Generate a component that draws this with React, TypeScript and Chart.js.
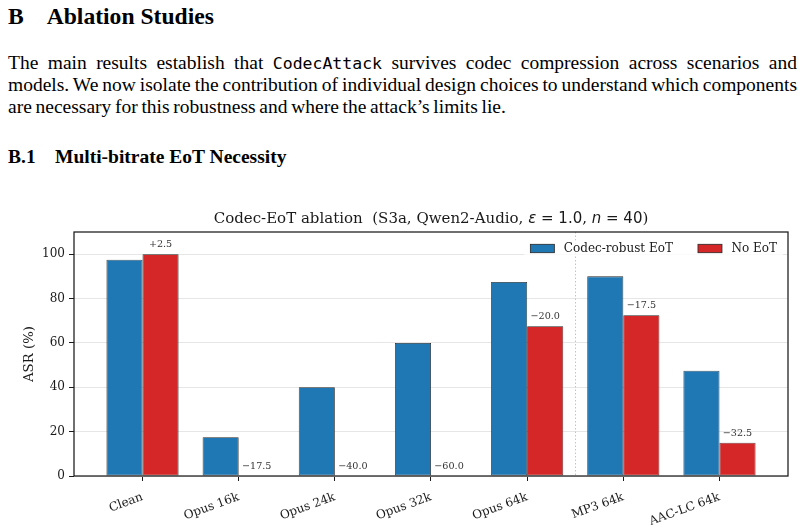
import { useEffect, useRef } from "react";
import { Chart, registerables } from "chart.js";

Chart.register(...registerables);

// ---- data ----
const categories = ["Clean", "Opus 16k", "Opus 24k", "Opus 32k", "Opus 64k", "MP3 64k", "AAC-LC 64k"];
const robustAsr = [97.5, 17.5, 40, 60, 87.5, 90, 47.5];
const noEotAsr = [100, 0, 0, 0, 67.5, 72.5, 15];
const seriesNames = ["Codec-robust EoT", "No EoT"];
const asrTicks = [0, 20, 40, 60, 80, 100];
const asrMax = 110;

// ---- styling ----
const SERIF = "'DejaVu Serif', serif";
const SANS = "'DejaVu Sans', sans-serif";
const BLUE = "#1f77b4";
const RED = "#d62728";
const EDGE = "#262626";
const INK = "#1a1a1a";
const PAPER = "'Liberation Serif', 'Times New Roman', serif";

// x limits: bars reach ±0.375 around the outer categories, plus a 5% margin
const barHalf = 0.375;
const dataSpan = categories.length - 1 + 2 * barHalf;
const xMin = -barHalf - 0.05 * dataSpan;
const xMax = categories.length - 1 + barHalf + 0.05 * dataSpan;

// dotted divider after the last Opus bitrate
const lastOpus = categories.reduce((acc, c, i) => (c.startsWith("Opus") ? i : acc), -1);
const dividerX = lastOpus + 0.5;

const fmtDelta = (d: number) => (d >= 0 ? "+" : "\u2212") + Math.abs(d).toFixed(1);

const CANVAS_TOP = 196;
const CANVAS_W = 805;
const CANVAS_H = 332;

const titleParts: [string, string][] = [
  ["Codec-EoT ablation  (S3a, Qwen2-Audio, ", `15px ${SERIF}`],
  ["\u03B5", `italic 15px ${SANS}`],
  [" = 1.0", `15px ${SANS}`],
  [", ", `15px ${SERIF}`],
  ["n", `italic 15px ${SANS}`],
  [" = 40", `15px ${SANS}`],
  [")", `15px ${SERIF}`],
];

const dividerPlugin = {
  id: "divider",
  beforeDatasetsDraw(chart: any) {
    const { ctx, chartArea } = chart;
    const x = chart.scales.x.getPixelForValue(dividerX);
    ctx.save();
    ctx.strokeStyle = "#c4c4c4";
    ctx.lineWidth = 1;
    ctx.setLineDash([1.5, 2]);
    ctx.beginPath();
    ctx.moveTo(Math.round(x) + 0.5, chartArea.top);
    ctx.lineTo(Math.round(x) + 0.5, chartArea.bottom);
    ctx.stroke();
    ctx.restore();
  },
};

const framePlugin = {
  id: "frame",
  afterDatasetsDraw(chart: any) {
    const { ctx, chartArea } = chart;
    ctx.save();
    ctx.strokeStyle = INK;
    ctx.lineWidth = 1.25;
    ctx.strokeRect(chartArea.left, chartArea.top, chartArea.right - chartArea.left, chartArea.bottom - chartArea.top);
    ctx.restore();
  },
};

const deltaPlugin = {
  id: "deltas",
  afterDatasetsDraw(chart: any) {
    const { ctx } = chart;
    const bars = chart.getDatasetMeta(1).data;
    ctx.save();
    ctx.font = `9.6px ${SERIF}`;
    ctx.fillStyle = "#333";
    ctx.textAlign = "center";
    ctx.textBaseline = "alphabetic";
    bars.forEach((bar: any, i: number) => {
      const d = noEotAsr[i] - robustAsr[i];
      ctx.fillText(fmtDelta(d), bar.x, bar.y - 7);
    });
    ctx.restore();
  },
};

const legendPlugin = {
  id: "cornerLegend",
  afterDraw(chart: any) {
    const { ctx, chartArea } = chart;
    const ds = chart.data.datasets;
    ctx.save();
    ctx.font = `12px ${SERIF}`;
    const boxW = 24;
    const boxH = 8.4;
    const gap = 9.5;
    const itemGap = 25;
    const widths = ds.map((d: any) => ctx.measureText(d.label).width);
    let total = 0;
    widths.forEach((w: number, i: number) => {
      total += boxW + gap + w + (i < widths.length - 1 ? itemGap : 0);
    });
    const right = chartArea.right - 11;
    const cy = chartArea.top + 16.5;
    let x = right - total;
    ctx.fillStyle = "rgba(255,255,255,0.8)";
    ctx.fillRect(x - 6, cy - 8, total + 12, 15);
    ctx.textBaseline = "middle";
    ds.forEach((d: any, i: number) => {
      ctx.fillStyle = d.backgroundColor;
      ctx.fillRect(x, cy - boxH / 2, boxW, boxH);
      ctx.strokeStyle = EDGE;
      ctx.lineWidth = 0.8;
      ctx.strokeRect(x, cy - boxH / 2, boxW, boxH);
      x += boxW + gap;
      ctx.fillStyle = INK;
      ctx.fillText(d.label, x, cy + 0.5);
      x += widths[i] + itemGap;
    });
    ctx.restore();
  },
};

const titlePlugin = {
  id: "mixedTitle",
  afterDraw(chart: any) {
    const { ctx, chartArea } = chart;
    ctx.save();
    const widths = titleParts.map(([t, f]) => {
      ctx.font = f;
      return ctx.measureText(t).width;
    });
    const total = widths.reduce((a, b) => a + b, 0);
    let x = (chartArea.left + chartArea.right) / 2 - total / 2;
    ctx.fillStyle = INK;
    ctx.textBaseline = "alphabetic";
    ctx.textAlign = "left";
    titleParts.forEach(([t, f], i) => {
      ctx.font = f;
      ctx.fillText(t, x, 26.5);
      x += widths[i];
    });
    ctx.restore();
  },
};

function AblationChart() {
  const ref = useRef<HTMLCanvasElement>(null);
  useEffect(() => {
    const canvas = ref.current;
    if (!canvas) return;
    const chart = new Chart(canvas, {
      type: "bar",
      data: {
        datasets: [
          {
            label: seriesNames[0],
            data: robustAsr.map((y, i) => ({ x: i, y })),
            backgroundColor: BLUE,
            borderColor: EDGE,
            borderWidth: 0.8,
            borderSkipped: false,
            categoryPercentage: 0.75,
            barPercentage: 1,
          },
          {
            label: seriesNames[1],
            data: noEotAsr.map((y, i) => ({ x: i, y })),
            backgroundColor: RED,
            borderColor: EDGE,
            borderWidth: 0.8,
            borderSkipped: false,
            categoryPercentage: 0.75,
            barPercentage: 1,
          },
        ],
      } as any,
      options: {
        animation: false,
        responsive: false,
        maintainAspectRatio: false,
        devicePixelRatio: 1,
        layout: { padding: { top: 232 - CANVAS_TOP, right: CANVAS_W - 788, bottom: 0, left: 0 } },
        plugins: {
          legend: { display: false },
          title: { display: false },
          tooltip: { enabled: false },
        },
        scales: {
          x: {
            type: "linear",
            min: xMin,
            max: xMax,
            offset: false,
            afterBuildTicks: (s: any) => {
              s.ticks = categories.map((_, i) => ({ value: i }));
            },
            afterFit: (s: any) => {
              s.height = CANVAS_H - (476 - CANVAS_TOP);
            },
            grid: {
              offset: false,
              drawOnChartArea: false,
              drawTicks: true,
              tickLength: 5,
              tickColor: INK,
              tickWidth: 1,
            },
            border: { display: false },
            ticks: {
              autoSkip: false,
              minRotation: 20,
              maxRotation: 20,
              padding: 9,
              color: INK,
              font: { family: SERIF, size: 12 },
              callback: (v: any) => categories[Math.round(Number(v))] ?? "",
            },
          },
          y: {
            min: 0,
            max: asrMax,
            afterBuildTicks: (s: any) => {
              s.ticks = asrTicks.map((v) => ({ value: v }));
            },
            afterFit: (s: any) => {
              s.width = 74;
            },
            grid: { color: "#e6e6e6", lineWidth: 1, tickColor: INK, tickLength: 5 },
            border: { display: false },
            ticks: { color: INK, font: { family: SERIF, size: 12 }, padding: 4 },
            title: {
              display: true,
              text: "ASR (%)",
              color: INK,
              font: { family: SERIF, size: 13.3 },
              padding: { top: 22, bottom: 0 },
            },
          },
        } as any,
      },
      plugins: [dividerPlugin, framePlugin, deltaPlugin, legendPlugin, titlePlugin],
    });
    return () => chart.destroy();
  }, []);
  return (
    <canvas
      ref={ref}
      width={CANVAS_W}
      height={CANVAS_H}
      style={{ position: "absolute", left: 0, top: CANVAS_TOP, width: CANVAS_W, height: CANVAS_H }}
    />
  );
}

const bodyLine = (justify: boolean): React.CSSProperties => ({
  position: "relative",
  height: "22.3px",
  lineHeight: "22.3px",
  textAlign: justify ? "justify" : "left",
  textAlignLast: justify ? "justify" : "auto",
  wordSpacing: "-0.06em",
});

export default function App() {
  return (
    <div style={{ position: "absolute", left: 0, top: 0, width: 805, height: 528, overflow: "hidden", background: "#fff", color: "#000" }}>
      <div style={{ position: "absolute", left: 8, top: 4, font: `bold 23.6px ${PAPER}`, lineHeight: "24px", whiteSpace: "nowrap" }}>
        <span>B</span>
        <span style={{ position: "absolute", left: 38.7 }}>Ablation Studies</span>
      </div>

      <div style={{ position: "absolute", left: 8, top: 51.5, width: 789, font: `19.5px ${PAPER}` }}>
        <div style={bodyLine(true)}>
          The main results establish that{" "}
          <span style={{ fontFamily: "'DejaVu Sans Mono', monospace", fontSize: "16.5px" }}>CodecAttack</span>{" "}
          survives codec compression across scenarios and
        </div>
        <div style={bodyLine(true)}>
          models. We now isolate the contribution of individual design choices to understand which components
        </div>
        <div style={bodyLine(false)}>are necessary for this robustness and where the attack’s limits lie.</div>
      </div>

      <div style={{ position: "absolute", left: 8, top: 147, font: `bold 19.5px ${PAPER}`, lineHeight: "20px", whiteSpace: "nowrap" }}>
        <span>B.1</span>
        <span style={{ position: "absolute", left: 47 }}>Multi-bitrate EoT Necessity</span>
      </div>

      <AblationChart />
    </div>
  );
}
